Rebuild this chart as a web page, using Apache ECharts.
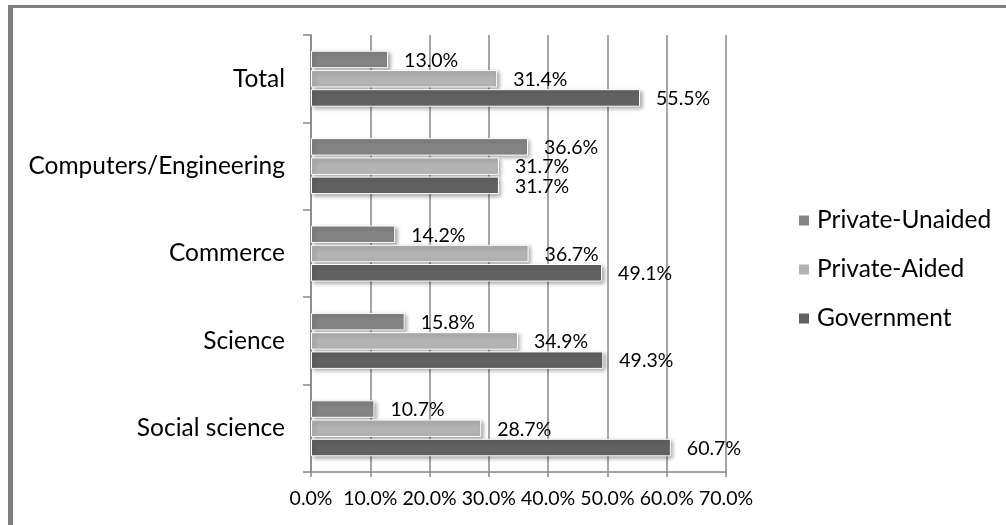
<!DOCTYPE html>
<html>
<head>
<meta charset="utf-8">
<script src="https://cdn.jsdelivr.net/npm/echarts@6/dist/echarts.min.js"></script>
<style>
  html, body { margin: 0; padding: 0; background: #fff; }
  #frame { position: absolute; left: 8px; top: 5px; right: 0; bottom: 0;
           border-top: 3px solid #808080; border-left: 5px solid #808080; }
  #chart { position: absolute; left: 0; top: 0; width: 1006px; height: 525px; }
</style>
</head>
<body>
<div id="frame"></div>
<div id="chart"></div>
<script>
// Share of students by type of college, per discipline (%)
const categories = ['Social science', 'Science', 'Commerce', 'Computers/Engineering', 'Total'];
const privateUnaided = [10.7, 15.8, 14.2, 36.6, 13.0];
const privateAided   = [28.7, 34.9, 36.7, 31.7, 31.4];
const government     = [60.7, 49.3, 49.1, 31.7, 55.5];
const seriesNames = ['Private-Unaided', 'Private-Aided', 'Government'];
const xTicks = { min: 0, max: 70, interval: 10 };

const FONT = 'Lato';
const pct = v => Number(v).toFixed(1) + '%';

function barSeries(name, data, color) {
  return {
    name: name,
    type: 'bar',
    data: data,
    barWidth: 17.5,
    barGap: '10%',
    itemStyle: {
      color: color,
      borderColor: '#ffffff',
      borderWidth: 1,
      shadowColor: 'rgba(0,0,0,0.35)',
      shadowBlur: 4,
      shadowOffsetX: 2,
      shadowOffsetY: 2
    },
    label: {
      show: true,
      position: 'right',
      distance: 16,
      offset: [0, 1],
      formatter: p => pct(p.value),
      fontFamily: FONT,
      fontSize: 19.5,
      color: '#000'
    }
  };
}

const chart = echarts.init(document.getElementById('chart'), null, { renderer: 'canvas' });
chart.setOption({
  animation: false,
  backgroundColor: 'transparent',
  grid: { left: 311, top: 35, right: 280, bottom: 53, containLabel: false },
  legend: {
    orient: 'vertical',
    left: 792,
    top: 203,
    data: seriesNames,
    icon: 'rect',
    itemWidth: 12,
    itemHeight: 12,
    itemGap: 24,
    textStyle: { fontFamily: FONT, fontSize: 24.5, color: '#000', padding: [0, 0, 0, 2] }
  },
  xAxis: {
    type: 'value',
    min: xTicks.min, max: xTicks.max, interval: xTicks.interval,
    axisLine: { show: true, lineStyle: { color: '#888', width: 1.5 } },
    axisTick: { show: true, length: 5, lineStyle: { color: '#888', width: 1.5 } },
    splitLine: { show: true, lineStyle: { color: '#888', width: 1.5 } },
    axisLabel: { formatter: v => pct(v), fontFamily: FONT, fontSize: 19.5, color: '#000', margin: 17 }
  },
  yAxis: {
    type: 'category',
    data: categories,
    axisLine: { show: true, lineStyle: { color: '#888', width: 1.5 } },
    axisTick: { show: true, length: 8, lineStyle: { color: '#888', width: 1.5 } },
    axisLabel: { fontFamily: FONT, fontSize: 24.5, color: '#000', margin: 26 }
  },
  series: [
    barSeries(seriesNames[0], privateUnaided, '#848484'),
    barSeries(seriesNames[1], privateAided, '#b3b3b3'),
    barSeries(seriesNames[2], government, '#626262')
  ]
});
</script>
</body>
</html>
